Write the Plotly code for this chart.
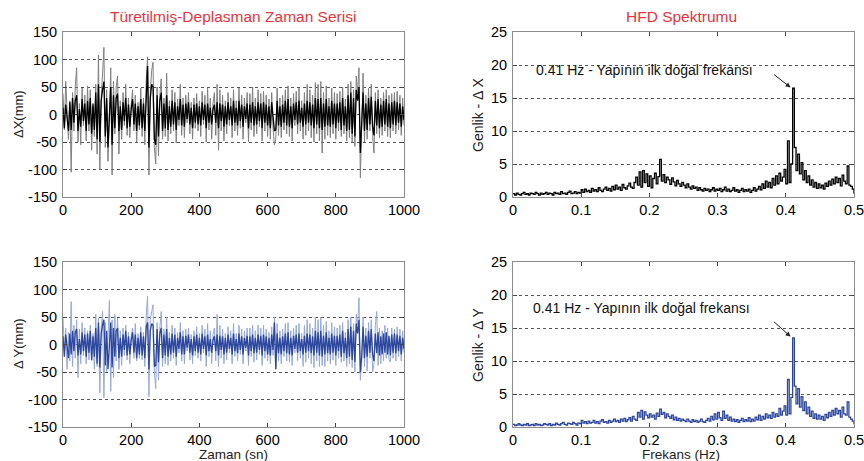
import plotly.graph_objects as go

# ---------------- data ----------------
time_s = [4 * i for i in range(251)]

dx_gray = [
    38, -28, 60, -12, -45, 25, -105, 40, -30, 52, 85, -50, 20, -55, 48, -20, 35, -48, 52, -30,
    45, -65, 15, -40, 55, -72, 108, -100, 30, 75, 122, -60, 45, -85, 20, 85, -110, 60, -35, 50,
    70, -72, 25, -45, 40, -20, 55, -38, 30, -42, 18, 45, -30, 35, -50, 22, -28, 48, -40, 30,
    -55, 62, 105, -110, 40, 80, 95, -60, -90, 50, -75, 35, 65, -45, 30, -40, 75, -48, 25, -35,
    45, -30, 40, -52, 28, -20, 55, -38, 30, -42, 35, -15, 40, -35, 22, -45, 30, -25, 38, -30,
    25, -40, 42, -18, 35, -50, 48, -28, 30, -45, 20, 40, -38, 55, -65, 45, -30, 35, -48, 25,
    -35, 40, -20, 30, -42, 45, -30, 25, -38, 48, -25, 35, -45, 30, -15, 40, -50, 38, -28, 50,
    -40, 30, -35, 45, -22, 38, -48, 42, -30, 35, -40, 28, -45, 40, -25, -55, -45, 48, -38, 30,
    -42, 35, -28, 45, -35, 52, -40, 30, -48, 38, -20, 42, -35, 48, -30, 25, -45, 40, -38, 55,
    -30, 45, -42, 35, -50, 58, -35, 55, -48, 60, -70, 40, -45, 52, -38, 30, -42, 48, -35, 40,
    -45, 38, -30, 42, -40, 50, -35, 28, -48, 55, -42, 60, -50, 45, -58, 70, 40, 85, -115, -40,
    75, -50, 35, -45, 48, -30, 55, -38, -70, 40, -35, 45, -42, 30, -38, 40, -30, 45, -40, 35,
    -42, 38, -30, 40, -35, 42, -28, 35, -38, 30, -20,
]
dx_black = [
    12, -25, 18, -8, -30, 22, -28, 30, -15, 25, 35, -30, 10, -22, 28, -12, 20, -30, 25, -18,
    30, -35, 20, -28, 40, -45, 55, -50, 25, 45, 60, -40, 30, -60, 15, 50, -55, 35, -25, 30,
    38, -30, 15, -28, 22, -12, 30, -25, 18, -22, 10, 28, -18, 20, -30, 15, -20, 28, -25, 20,
    -30, 40, 88, -60, 30, 55, 50, -45, -55, 35, -40, 25, 40, -30, 20, -25, 35, -28, 15, -22,
    25, -18, 22, -28, 15, -10, 28, -20, 18, -22, 20, -8, 22, -18, 12, -25, 18, -15, 20, -18,
    15, -20, 22, -10, 18, -25, 20, -15, 12, -18, 10, 18, -15, 22, -25, 20, -12, 18, -22, 15,
    -18, 22, -10, 15, -20, 25, -15, 12, -20, 25, -12, 18, -22, 15, -8, 20, -25, 18, -15, 22,
    -20, 15, -18, 22, -12, 20, -25, 22, -15, 18, -20, 15, -25, 22, -12, -30, -28, 25, -20, 15,
    -22, 18, -15, 25, -20, 28, -22, 15, -25, 20, -10, 22, -18, 25, -15, 12, -22, 20, -18, 25,
    -15, 22, -20, 18, -25, 30, -18, 28, -25, 30, -28, 20, -22, 28, -20, 15, -22, 25, -18, 20,
    -25, 20, -15, 22, -28, 30, -20, 15, -30, 35, -28, 40, -35, 30, -40, 45, 25, 50, -70, -25,
    40, -30, 20, -28, 30, -18, 32, -22, -38, 25, -20, 28, -25, 18, -22, 25, -18, 28, -22, 20,
    -25, 22, -18, 25, -20, 22, -15, 20, -22, 15, -10,
]
dy_light = [
    50, -15, 30, -45, 22, -30, 78, -40, 35, -25, 45, -60, 28, -35, 40, -20, 30, -35, 25, -28,
    35, -30, 20, -45, 55, -40, 48, -88, 30, 60, -97, 40, -50, 35, 80, -85, 45, -60, 55, -30,
    48, -45, 25, -38, 30, -20, 35, -28, 22, -35, 15, 30, -25, 38, -30, 20, -25, 32, -28, 22,
    -40, 50, 88, -95, 45, 60, 72, -50, -80, 40, -65, 30, 60, -40, 28, -35, 50, -38, 22, -30,
    35, -25, 30, -38, 22, -15, 40, -30, 25, -35, 28, -12, 30, -28, 18, -35, 25, -20, 32, -25,
    20, -30, 35, -15, 28, -40, 38, -22, 25, -35, 18, 30, -30, 55, -40, 35, -25, 28, -35, 20,
    -28, 32, -15, 25, -35, 38, -22, 20, -30, 35, -18, 28, -35, 25, -12, 30, -38, 30, -22, 35,
    -32, 25, -28, 35, -18, 30, -38, 35, -25, 28, -30, 22, -35, 32, -20, 50, -45, 38, -30, 25,
    -35, 28, -22, 38, -30, 40, -32, 25, -38, 30, -15, 35, -30, 38, -25, 20, -40, 35, -32, 45,
    -25, 38, -35, 30, -42, 50, -30, 45, -40, 50, -38, 35, -40, 42, -30, 25, -35, 40, -28, 32,
    -38, 30, -25, 35, -32, 40, -30, 22, -40, 45, -35, 50, -42, 38, -50, 55, 35, 85, -65, -30,
    50, -40, 30, -48, 40, -25, 45, -50, -35, 35, 60, -38, 30, -35, 25, -30, 35, -25, 30, -28,
    -32, 30, -25, 28, -30, 32, -22, 28, -30, 25, -15,
]
dy_dark = [
    15, -22, 18, -10, -25, 20, -18, 25, -12, 22, 28, -20, 10, -18, 22, -12, 18, -22, 20, -15,
    25, -28, 15, -22, 30, -35, 40, -42, 20, 35, 45, -38, 25, -45, 12, 40, -42, 30, -22, 25,
    30, -25, 12, -22, 18, -10, 25, -20, 15, -18, 8, 22, -15, 18, -25, 12, -18, 22, -20, 15,
    -25, 32, 40, -45, 25, 38, 35, -40, -38, 28, -32, 20, 30, -25, 18, -20, 28, -22, 12, -18,
    20, -15, 18, -22, 12, -8, 22, -18, 15, -18, 16, -6, 18, -15, 10, -20, 15, -12, 18, -15,
    12, -18, 20, -8, 15, -20, 18, -12, 10, -15, 8, 15, -12, 18, -20, 16, -10, 15, -18, 12,
    -15, 18, -8, 12, -18, 20, -12, 10, -16, 20, -10, 15, -18, 12, -6, 16, -20, 15, -12, 18,
    -16, 12, -15, 18, -10, 16, -20, 18, -12, 15, -18, 12, -20, 18, -10, 40, -45, 20, -16, 12,
    -18, 15, -12, 20, -16, 22, -18, 12, -20, 16, -8, 18, -15, 20, -12, 10, -18, 16, -15, 20,
    -12, 18, -16, 15, -20, 25, -15, 22, -20, 25, -22, 16, -18, 22, -16, 12, -18, 20, -15, 16,
    -20, 16, -12, 18, -22, 25, -16, 12, -25, 28, -22, 32, -28, 25, -32, 38, 20, 45, -50, -20,
    32, -25, 16, -22, 25, -15, 28, -18, -30, 20, -16, 22, -20, 15, -18, 20, -15, 22, -18, 16,
    -20, 18, -15, 20, -16, 18, -12, 16, -18, 12, -8,
]

freq_hz = [0.0025 * i for i in range(201)]

spec_x = [
    0.5, 0.3, 0.6, 0.4, 0.3, 0.5, 0.7, 0.4, 0.5, 0.3, 0.6, 0.5, 0.4, 0.7, 0.5, 0.3, 0.6, 0.4, 0.5, 0.7,
    0.4, 0.6, 0.5, 0.3, 0.7, 0.5, 0.6, 0.4, 0.8, 0.5, 0.6, 0.4, 0.7, 0.9, 0.5, 0.6, 0.8, 0.5, 0.7, 0.6,
    1.1, 0.7, 1.2, 0.8, 1.0, 0.7, 1.3, 0.9, 1.1, 0.8, 1.4, 1.0, 0.8, 1.2, 1.5, 1.0, 1.3, 0.9, 1.6, 1.1,
    1.8, 1.2, 1.5, 1.0, 1.9, 1.4, 1.2, 1.7, 2.1, 1.5, 1.3, 2.2, 3.0, 1.8, 3.8, 1.5, 4.0, 2.2, 3.5, 1.6,
    3.2, 1.4, 2.8, 3.6, 2.0, 3.1, 5.7, 2.4, 3.4, 2.2, 3.0, 2.6, 1.9, 2.9, 2.3, 1.7, 2.5, 2.0, 1.6, 2.2,
    1.8, 1.4, 2.0, 1.5, 1.2, 1.7, 1.3, 1.5, 1.0, 1.4, 1.1, 0.9, 1.3, 1.0, 1.2, 0.8, 1.1, 1.4, 0.9, 1.2,
    1.0, 1.3, 0.8, 1.1, 1.5, 0.9, 1.2, 0.8, 1.0, 1.4, 0.9, 1.1, 0.7, 1.0, 1.3, 0.8, 1.1, 0.9, 1.2, 0.7,
    1.0, 1.4, 0.9, 1.2, 1.6, 1.1, 2.0, 1.3, 2.4, 1.5, 2.2, 1.4, 2.8, 1.8, 3.2, 2.0, 3.6, 2.4, 3.0, 4.2,
    2.0, 8.5, 2.2, 5.0, 16.5, 7.5, 4.0, 6.5, 3.5, 5.2, 2.6, 4.0, 2.2, 3.2, 1.8, 2.6, 1.5, 2.2, 1.3, 2.0,
    1.4, 1.8, 1.2, 2.1, 1.6, 2.4, 1.8, 2.7, 2.0, 3.0, 2.2, 2.8, 1.7, 3.3, 2.4, 2.0, 4.7, 1.8, 1.6, 1.2, 0.5,
]
spec_y = [
    0.4, 0.2, 0.3, 0.5, 0.3, 0.2, 0.4, 0.3, 0.5, 0.2, 0.3, 0.4, 0.2, 0.5, 0.3, 0.4, 0.2, 0.3, 0.5, 0.4,
    0.3, 0.5, 0.2, 0.4, 0.3, 0.6, 0.4, 0.3, 0.5, 0.7, 0.4, 0.3, 0.6, 0.5, 0.4, 0.7, 0.5, 0.3, 0.6, 0.5,
    1.0, 0.6, 0.8, 0.5, 0.9, 0.6, 0.7, 1.0, 0.6, 0.8, 0.5, 0.9, 1.1, 0.7, 0.8, 0.6, 1.0, 0.7, 0.9, 1.2,
    0.8, 1.0, 0.7, 1.2, 0.9, 1.3, 0.8, 1.1, 1.4, 0.9, 1.6, 1.2, 1.0, 2.2, 1.5, 2.5, 1.2, 2.3, 1.8, 1.4,
    2.0, 1.5, 1.8, 1.2, 2.1, 1.6, 2.7, 1.9, 2.2, 1.4, 2.0, 1.6, 1.3, 1.8, 1.1, 1.5, 1.0, 1.3, 0.9, 1.2,
    1.0, 0.8, 1.2, 0.9, 0.7, 1.1, 0.8, 1.0, 0.7, 0.9, 1.2, 0.8, 0.7, 1.0, 1.3, 0.9, 1.6, 1.1, 2.0, 1.2,
    2.2, 1.4, 1.0, 2.4, 1.3, 1.8, 1.0, 1.5, 0.9, 1.2, 0.8, 1.1, 0.7, 1.0, 1.3, 0.8, 1.1, 0.9, 1.4, 0.8,
    1.2, 0.9, 1.5, 1.1, 1.8, 1.0, 1.6, 1.2, 2.0, 1.4, 1.8, 1.3, 2.2, 1.5, 2.0, 1.6, 2.8, 1.8, 2.4, 3.2,
    1.8, 7.2, 2.0, 4.5, 13.5, 6.2, 3.5, 5.8, 3.0, 4.6, 2.5, 3.8, 2.0, 3.0, 1.6, 2.4, 1.3, 2.0, 1.2, 1.8,
    1.2, 1.6, 1.0, 1.9, 1.4, 2.2, 1.6, 2.5, 1.8, 2.8, 2.0, 2.5, 1.5, 3.0, 2.0, 1.8, 3.8, 1.5, 1.2, 0.9, 0.4,
]

time_ticks = [0, 200, 400, 600, 800, 1000]
disp_ticks = [-150, -100, -50, 0, 50, 100, 150]
freq_ticks = [0, 0.1, 0.2, 0.3, 0.4, 0.5]
amp_ticks = [0, 5, 10, 15, 20, 25]

peak_label = "0.41 Hz - Yapının ilk doğal frekansı"
peak_freq = 0.41

# ---------------- figure ----------------
FONT = "Liberation Sans, Arial, sans-serif"
W, H = 864, 461

def px_x(p):
    return p / W

def px_y(p):
    return 1 - p / H

fig = go.Figure()

fig.add_trace(go.Scatter(x=time_s, y=dx_gray, mode="lines", line=dict(color="#808080", width=1),
                         xaxis="x", yaxis="y", showlegend=False))
fig.add_trace(go.Scatter(x=time_s, y=dx_black, mode="lines", line=dict(color="#000000", width=1.3),
                         xaxis="x", yaxis="y", showlegend=False))
fig.add_trace(go.Scatter(x=freq_hz, y=spec_x, mode="lines", line=dict(color="#000000", width=1.3, shape="hv"),
                         xaxis="x2", yaxis="y2", showlegend=False))
fig.add_trace(go.Scatter(x=time_s, y=dy_light, mode="lines", line=dict(color="#96a9da", width=1),
                         xaxis="x3", yaxis="y3", showlegend=False))
fig.add_trace(go.Scatter(x=time_s, y=dy_dark, mode="lines", line=dict(color="#2c479d", width=1.3),
                         xaxis="x3", yaxis="y3", showlegend=False))
fig.add_trace(go.Scatter(x=freq_hz, y=spec_y, mode="lines", line=dict(color="#2c479d", width=1.3, shape="hv"),
                         xaxis="x4", yaxis="y4", showlegend=False))

left = [px_x(63), px_x(404)]
right = [px_x(513), px_x(854)]
top = [px_y(197), px_y(32)]
bottom = [px_y(427), px_y(262)]

tickfont = dict(family=FONT, size=14.5, color="#000000")

def xax(domain, anchor, rng, ticks):
    return dict(domain=domain, anchor=anchor, range=rng, tickvals=ticks, ticktext=[f"{t:g}" for t in ticks],
                showgrid=False, zeroline=False, showline=True, linecolor="#8c8c8c", linewidth=1,
                mirror="ticks", ticks="inside", ticklen=4, tickcolor="#444444", tickfont=tickfont,
                automargin=False, ticklabeloverflow="allow")

def yax(domain, anchor, rng, ticks):
    return dict(domain=domain, anchor=anchor, range=rng, tickvals=ticks, ticktext=[f"{t:g}" for t in ticks],
                showgrid=True, gridcolor="#555555", griddash="dot", gridwidth=1, zeroline=False,
                showline=True, linecolor="#8c8c8c", linewidth=1, mirror="ticks", ticks="inside",
                ticklen=4, tickcolor="#444444", tickfont=tickfont, ticklabelstandoff=2,
                automargin=False, ticklabeloverflow="allow")

fig.update_layout(
    template="none",
    width=W, height=H, margin=dict(l=0, r=0, t=0, b=0, autoexpand=False),
    paper_bgcolor="white", plot_bgcolor="white",
    font=dict(family=FONT, color="#111111"),
    showlegend=False,
    xaxis=xax(left, "y", [0, 1000], time_ticks),
    yaxis=yax(top, "x", [-150, 150], disp_ticks),
    xaxis2=xax(right, "y2", [0, 0.5], freq_ticks),
    yaxis2=yax(top, "x2", [0, 25], amp_ticks),
    xaxis3=xax(left, "y3", [0, 1000], time_ticks),
    yaxis3=yax(bottom, "x3", [-150, 150], disp_ticks),
    xaxis4=xax(right, "y4", [0, 0.5], freq_ticks),
    yaxis4=yax(bottom, "x4", [0, 25], amp_ticks),
)

annos = [
    dict(text="Türetilmiş-Deplasman Zaman Serisi", x=px_x(233), y=px_y(16), font=dict(size=15.5, color="#e8333d")),
    dict(text="HFD Spektrumu", x=px_x(681), y=px_y(16), font=dict(size=15.5, color="#e8333d")),
    dict(text="Zaman (sn)", x=px_x(233), y=px_y(454), font=dict(size=13.5, color="#222222")),
    dict(text="Frekans (Hz)", x=px_x(681), y=px_y(454.5), font=dict(size=13.5, color="#222222")),
    dict(text="ΔX(mm)", x=px_x(18), y=px_y(114), textangle=-90, font=dict(size=13, color="#222222")),
    dict(text="Δ Y(mm)", x=px_x(18), y=px_y(344), textangle=-90, font=dict(size=13, color="#222222")),
    dict(text="Genlik - Δ X", x=px_x(478), y=px_y(114), textangle=-90, font=dict(size=14, color="#222222")),
    dict(text="Genlik - Δ Y", x=px_x(478), y=px_y(344), textangle=-90, font=dict(size=14, color="#222222")),
]
for a in annos:
    fig.add_annotation(xref="paper", yref="paper", showarrow=False, xanchor="center", yanchor="middle", **a)

# peak labels
fig.add_annotation(xref="x2", yref="y2", x=0.031, y=19.2, text=peak_label, showarrow=False,
                   xanchor="left", yanchor="middle", font=dict(size=14, color="#111111"))
fig.add_annotation(xref="x2", yref="y2", x=peak_freq - 0.003, y=16.6, text="", showarrow=True,
                   arrowhead=2, arrowsize=1, arrowwidth=1, arrowcolor="#222222", ax=-18, ay=-14)
fig.add_annotation(xref="x4", yref="y4", x=0.026, y=18.0, text=peak_label, showarrow=False,
                   xanchor="left", yanchor="middle", font=dict(size=14, color="#111111"))
fig.add_annotation(xref="x4", yref="y4", x=peak_freq - 0.003, y=13.7, text="", showarrow=True,
                   arrowhead=2, arrowsize=1, arrowwidth=1, arrowcolor="#222222", ax=-18, ay=-16)

fig.write_html("out.html",
               config={"displayModeBar": False},
               post_script="document.body.style.margin='0';document.body.style.overflow='hidden';")
